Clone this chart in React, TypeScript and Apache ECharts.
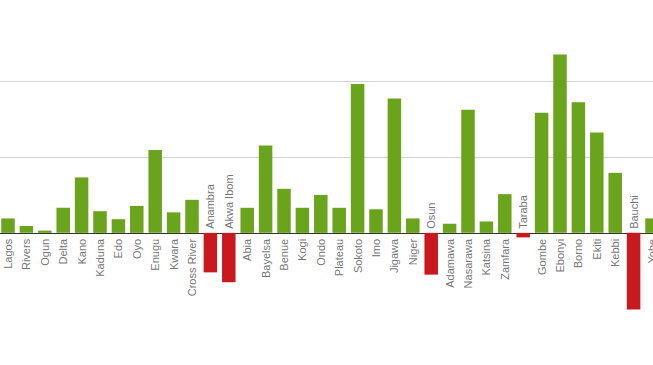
import React, { useEffect, useRef } from "react";
import * as echarts from "echarts";

const categories = [
  "Lagos", "Rivers", "Ogun", "Delta", "Kano", "Kaduna", "Edo", "Oyo", "Enugu", "Kwara",
  "Cross River", "Anambra", "Akwa Ibom", "Abia", "Bayelsa", "Benue", "Kogi", "Ondo",
  "Plateau", "Sokoto", "Imo", "Jigawa", "Niger", "Osun", "Adamawa", "Nasarawa", "Katsina",
  "Zamfara", "Taraba", "Gombe", "Ebonyi", "Borno", "Ekiti", "Kebbi", "Bauchi", "Yobe",
];

const values = [
  1.9, 0.9, 0.3, 3.3, 7.3, 2.85, 1.8, 3.55, 10.9, 2.7,
  4.35, -5.2, -6.5, 3.3, 11.5, 5.8, 3.3, 5.0,
  3.3, 19.6, 3.1, 17.7, 1.9, -5.5, 1.2, 16.2, 1.5,
  5.1, -0.6, 15.8, 23.5, 17.2, 13.2, 7.9, -10.1, 1.9,
];

const gridLevels = [10, 20];

const GREEN = "#6aa31c";
const RED = "#c8191f";

export default function App() {
  const ref = useRef<HTMLDivElement>(null);

  useEffect(() => {
    if (!ref.current) return;
    const chart = echarts.init(ref.current, undefined, { renderer: "svg" });
    const labelData = categories.map((name, i) => ({
      value: 0,
      name,
      label:
        values[i] >= 0
          ? { align: "right", offset: [-6, 0] }
          : { align: "left", offset: [4, 0] },
    }));
    chart.setOption({
      animation: false,
      grid: { left: -1.2, right: -8.2, top: 0, bottom: 41, outerBoundsMode: "none", containLabel: false },
      xAxis: {
        type: "category",
        data: categories,
        axisLine: { onZero: true, lineStyle: { color: "#333", width: 1 } },
        axisTick: { show: false },
        axisLabel: { show: false },
      },
      yAxis: {
        type: "value",
        min: -12,
        max: 30.66,
        axisLine: { show: false },
        axisTick: { show: false },
        axisLabel: { show: false },
        splitLine: { show: false },
      },
      series: [
        {
          type: "bar",
          z: 3,
          barWidth: 13.5,
          data: values,
          itemStyle: {
            color: (p: any) => (p.value >= 0 ? GREEN : RED),
          },
          markLine: {
            silent: true,
            z: 1,
            symbol: ["none", "none"],
            label: { show: false },
            lineStyle: { color: "#d4d4d4", type: "solid", width: 1 },
            data: gridLevels.map((y) => ({ yAxis: y })),
          },
        },
        {
          type: "scatter",
          z: 4,
          silent: true,
          symbolSize: 1,
          itemStyle: { color: "rgba(0,0,0,0)" },
          data: labelData,
          label: {
            show: true,
            position: "inside",
            rotate: 90,
            verticalAlign: "middle",
            formatter: "{b}",
            fontSize: 11,
            color: "#4d4d4d",
            fontFamily: "Liberation Sans, Arial, sans-serif",
          },
        },
      ],
    });
    return () => chart.dispose();
  }, []);

  return (
    <div
      ref={ref}
      style={{ position: "fixed", left: 0, top: 0, width: 653, height: 365, background: "#fff" }}
    />
  );
}
